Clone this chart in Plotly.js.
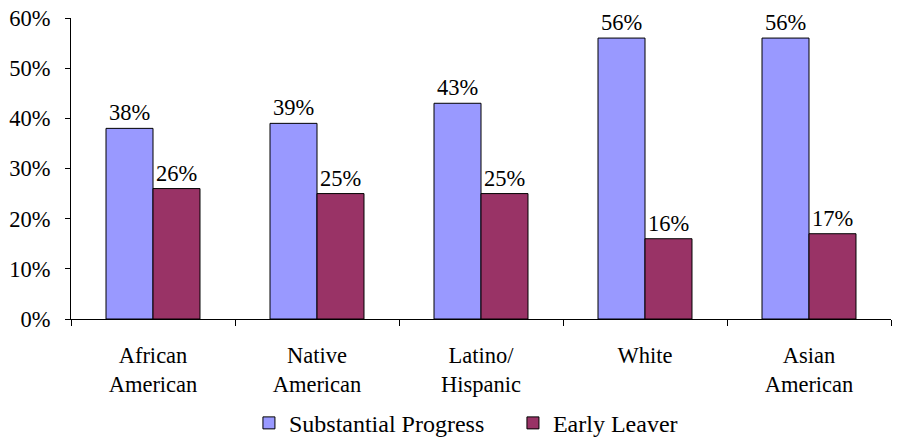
<!DOCTYPE html>
<html>
<head>
<meta charset="utf-8">
<script src="https://cdn.plot.ly/plotly-3.0.1.min.js"></script>
<style>
  html, body { margin: 0; padding: 0; background: #fff; }
  #chart { width: 898px; height: 440px; }
</style>
</head>
<body>
<div id="chart"></div>
<script>
// Student outcomes by racial/ethnic group (percent)
const categories = [
  'African<br>American',
  'Native<br>American',
  'Latino/<br>Hispanic',
  'White',
  'Asian<br>American'
];
const substantialProgress = [38, 39, 43, 56, 56];
const earlyLeaver = [26, 25, 25, 16, 17];
const yTickValues = [0, 10, 20, 30, 40, 50, 60];
const yTickLabels = yTickValues.map(v => v + '%');

const serif = 'Liberation Serif';
const labelSize = 22.5;

function barTrace(name, values, color) {
  return {
    type: 'bar',
    name: name,
    x: categories,
    y: values,
    marker: { color: color, line: { color: '#000000', width: 1 } },
    hoverinfo: 'skip'
  };
}

const traces = [
  barTrace('Substantial Progress', substantialProgress, '#9999FF'),
  barTrace('Early Leaver', earlyLeaver, '#993366')
];

// Value labels sit above each bar; the two series are offset to their half of the group
function valueLabels(values, shift) {
  return values.map((v, i) => ({
    x: categories[i],
    y: v,
    xref: 'x',
    yref: 'y',
    text: v + '%',
    showarrow: false,
    xanchor: 'center',
    yanchor: 'bottom',
    xshift: shift,
    yshift: 1,
    font: { family: serif, size: labelSize, color: '#000' }
  }));
}

const layout = {
  width: 898,
  height: 440,
  margin: { l: 71, r: 7, t: 18, b: 121 },
  paper_bgcolor: '#fff',
  plot_bgcolor: '#fff',
  font: { family: serif, size: labelSize, color: '#000' },
  barmode: 'group',
  bargap: 0.427,
  bargroupgap: 0,
  showlegend: true,
  legend: {
    orientation: 'h',
    x: 0.217,
    xref: 'paper',
    xanchor: 'left',
    yref: 'container',
    y: 0.038,
    yanchor: 'middle',
    font: { family: serif, size: 24, color: '#000' },
    itemwidth: 30,
    entrywidth: 219
  },
  annotations: valueLabels(substantialProgress, -23.5).concat(valueLabels(earlyLeaver, 23.5)),
  xaxis: {
    type: 'category',
    automargin: false,
    showline: true,
    linecolor: '#000',
    linewidth: 1,
    ticks: 'outside',
    tickson: 'boundaries',
    ticklen: 6,
    tickcolor: '#000',
    showgrid: false,
    zeroline: false,
    tickfont: { family: serif, size: labelSize, color: '#000' },
    ticklabelstandoff: 16
  },
  yaxis: {
    range: [0, 60],
    automargin: false,
    tickmode: 'array',
    tickvals: yTickValues,
    ticktext: yTickLabels,
    showline: true,
    linecolor: '#000',
    linewidth: 1,
    ticks: 'outside',
    ticklen: 5,
    tickcolor: '#000',
    showgrid: false,
    zeroline: false,
    tickfont: { family: serif, size: labelSize, color: '#000' },
    ticklabelstandoff: 10
  }
};

Plotly.newPlot('chart', traces, layout, { displayModeBar: false, staticPlot: true });
</script>
</body>
</html>
